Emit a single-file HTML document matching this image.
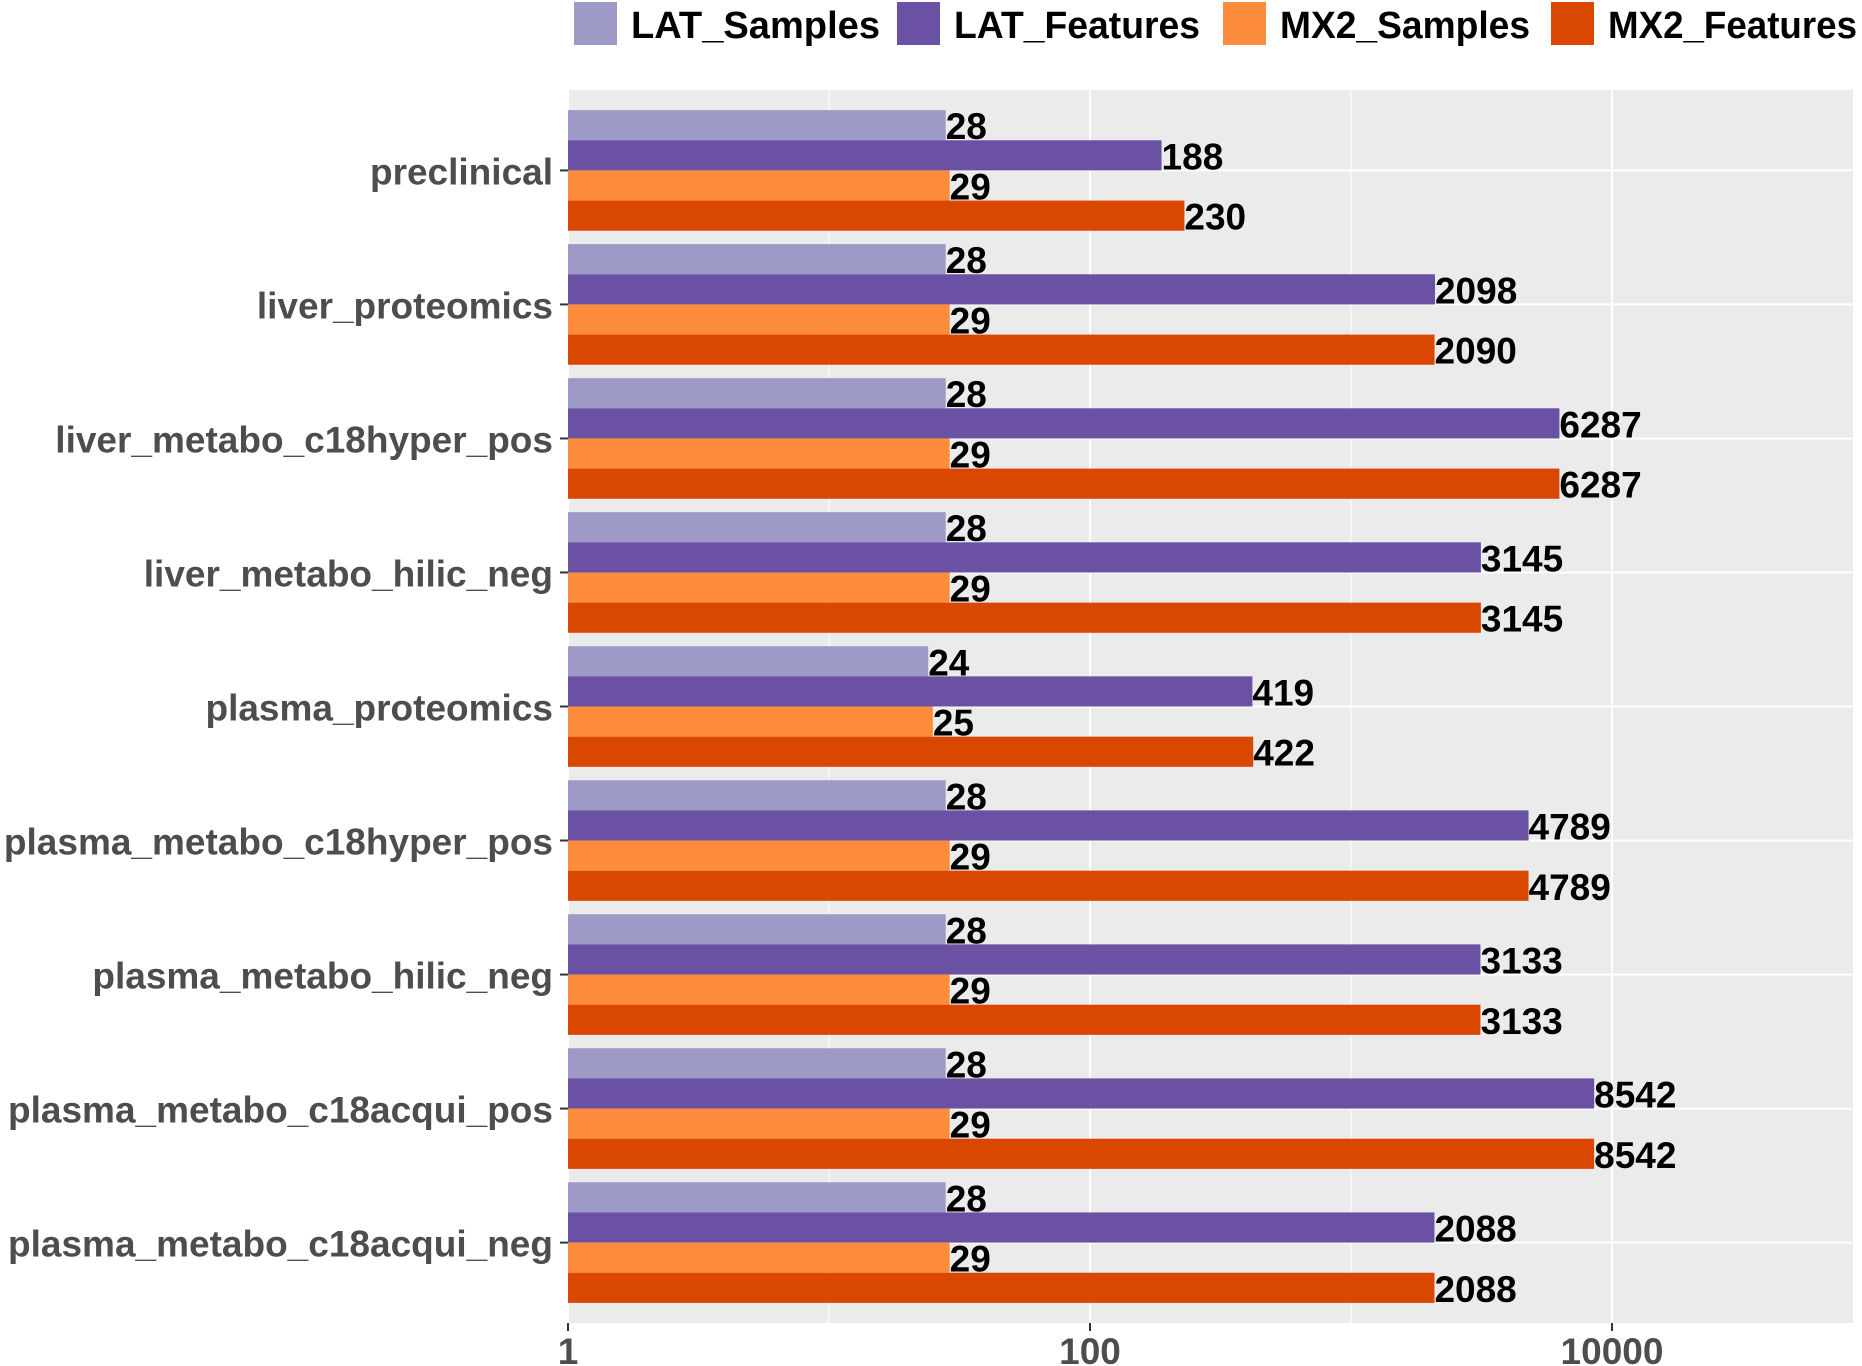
<!DOCTYPE html>
<html><head><meta charset="utf-8"><style>
html,body{margin:0;padding:0;background:#fff;}
svg{display:block;font-family:"Liberation Sans",Arial,sans-serif;font-weight:bold;}
</style></head><body>
<svg id="chart" width="1862" height="1366" viewBox="0 0 1862 1366" xmlns="http://www.w3.org/2000/svg"></svg>
<script>
const categories=["preclinical","liver_proteomics","liver_metabo_c18hyper_pos","liver_metabo_hilic_neg","plasma_proteomics","plasma_metabo_c18hyper_pos","plasma_metabo_hilic_neg","plasma_metabo_c18acqui_pos","plasma_metabo_c18acqui_neg"];
const seriesNames=["LAT_Samples","LAT_Features","MX2_Samples","MX2_Features"];
const latSamples=[28,28,28,28,24,28,28,28,28];
const latFeatures=[188,2098,6287,3145,419,4789,3133,8542,2088];
const mx2Samples=[29,29,29,29,25,29,29,29,29];
const mx2Features=[230,2090,6287,3145,422,4789,3133,8542,2088];
const tickValues=[1,100,10000];
const tickLabels=["1","100","10000"];
const minorTicks=[10,1000];

const colors=["#9E9AC8","#6A51A3","#FD8D3C","#D94701"];
const series=[latSamples,latFeatures,mx2Samples,mx2Features];
const P={l:568,r:1853,t:90,b:1323};
const decade=261;
const xs=v=>P.l+Math.log10(v)*decade;
const step=(P.b-P.t)/(categories.length+0.2);
const yc=i=>P.t+(0.6+i)*step;
const barH=step*0.9/4;
const NS="http://www.w3.org/2000/svg";
const svg=document.getElementById('chart');
function mk(tag,attrs,parent){const e=document.createElementNS(NS,tag);for(const k in attrs)e.setAttribute(k,attrs[k]);(parent||svg).appendChild(e);return e;}

const bg=mk('rect',{x:P.l,y:P.t,width:P.r-P.l,height:P.b-P.t,fill:'#EBEBEB'});


minorTicks.forEach(v=>{const l=mk('line',{x1:xs(v),x2:xs(v),y1:P.t,y2:P.b,stroke:'#fff','stroke-width':1});

});
tickValues.forEach((v,i)=>{const l=mk('line',{x1:xs(v),x2:xs(v),y1:P.t,y2:P.b,stroke:'#fff','stroke-width':2});


const tk=mk('line',{x1:xs(v),x2:xs(v),y1:P.b,y2:P.b+8,stroke:'#333','stroke-width':2});


const t=mk('text',{x:xs(v),y:1364,'text-anchor':'middle','font-size':37,fill:'#4D4D4D'});t.textContent=tickLabels[i];

});
categories.forEach((c,i)=>{const y=yc(i);
const g=mk('line',{x1:P.l,x2:P.r,y1:y,y2:y,stroke:'#fff','stroke-width':2});


const tk=mk('line',{x1:P.l-8,x2:P.l,y1:y,y2:y,stroke:'#333','stroke-width':2});


const t=mk('text',{x:553,y:y+14,'text-anchor':'end','font-size':37,fill:'#4D4D4D'});t.textContent=c;


series.forEach((s,j)=>{const top=y-2*barH+j*barH;const xe=xs(s[i]);
const r=mk('rect',{x:P.l,y:top,width:xe-P.l,height:barH,fill:colors[j]});


const lt=mk('text',{x:xe,y:top+barH/2+14,'font-size':37,fill:'#000'});lt.textContent=s[i];

});});
const keyX=[574,897,1223,1551];
const legendW=[249,246,250,249];
seriesNames.forEach((n,j)=>{const k=mk('rect',{x:keyX[j],y:2,width:43,height:43,fill:colors[j]});


const t=mk('text',{x:keyX[j]+57,y:38,'font-size':38,fill:'#000',textLength:legendW[j],lengthAdjust:'spacingAndGlyphs'});t.textContent=n;

});
</script>
</body></html>
